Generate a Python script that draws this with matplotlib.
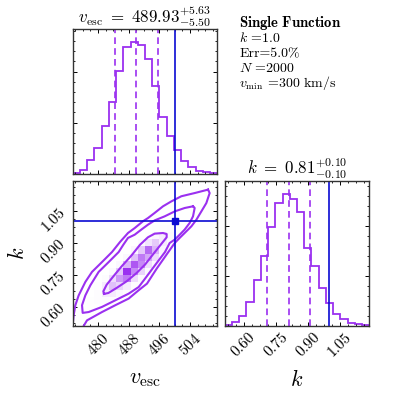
import numpy as np
import matplotlib
matplotlib.use("Agg")
import matplotlib.pyplot as plt
from matplotlib.colors import LinearSegmentedColormap
from matplotlib.ticker import AutoMinorLocator, MultipleLocator

plt.rcParams.update({
    "font.family": "serif",
    "font.serif": ["cmr10"],
    "mathtext.fontset": "cm",
    "axes.formatter.use_mathtext": True,
    "axes.unicode_minus": False,
})

# ----- data -----
v_range = (473.4, 511.1)
k_range = (0.511, 1.187)

# 20-bin histograms (sample counts)
v_counts = [1, 8, 26, 50, 94, 141, 201, 248, 257, 252, 225, 171, 110, 73, 46, 25, 13, 5, 3, 1]
k_counts = [2, 7, 20, 48, 91, 140, 197, 246, 263, 253, 227, 156, 120, 75, 45, 23, 14, 5, 3, 1]

# quantiles (16, 50, 84) and truth values
v_q = [484.43, 489.93, 495.56]
k_q = [0.71, 0.81, 0.91]
v_true = 500.0
k_true = 1.0

v_ticks = [480, 488, 496, 504]
k_ticks = [0.60, 0.75, 0.90, 1.05]
k_tick_labels = ["0.60", "0.75", "0.90", "1.05"]

# 2D density, block of bins: v-bins 2..14, k-bins from top row 6..17 (relative to max)
dens_cols = list(range(2, 15))
dens_rows_top = list(range(6, 18))
density = [
    [0, 0, 0, 0, 0, 0, 0, 0, 0, 0.05, 0.08, 0.12, 0.05],
    [0, 0, 0, 0, 0, 0, 0, 0, 0.08, 0.2, 0.3, 0.15, 0.05],
    [0, 0, 0, 0, 0, 0, 0, 0.15, 0.35, 0.5, 0.3, 0.08, 0],
    [0, 0, 0, 0, 0, 0, 0.2, 0.5, 0.85, 0.6, 0.2, 0.05, 0],
    [0, 0, 0, 0, 0, 0.18, 0.55, 0.8, 0.65, 0.4, 0.12, 0, 0],
    [0, 0, 0, 0, 0.18, 0.6, 0.9, 0.75, 0.4, 0.15, 0, 0, 0],
    [0, 0, 0, 0.15, 0.5, 1.0, 0.75, 0.45, 0.15, 0, 0, 0, 0],
    [0, 0, 0.12, 0.4, 0.7, 0.8, 0.4, 0.15, 0, 0, 0, 0, 0],
    [0, 0.06, 0.3, 0.55, 0.45, 0.3, 0.08, 0, 0, 0, 0, 0, 0],
    [0, 0.12, 0.3, 0.3, 0.18, 0.08, 0, 0, 0, 0, 0, 0, 0],
    [0.05, 0.12, 0.12, 0.08, 0, 0, 0, 0, 0, 0, 0, 0, 0],
    [0.05, 0.05, 0, 0, 0, 0, 0, 0, 0, 0, 0, 0, 0],
]

# contour lines (v_esc, k)
outer_v = [508.68, 505.20, 501.72, 499.12, 496.95, 494.77, 493.03, 491.73, 489.56, 487.82,
           485.74, 483.65, 481.04, 478.44, 476.70, 474.96, 474.09, 473.66, 473.40, 472.70,
           475.31, 476.26, 477.13, 481.04, 484.52, 487.99, 490.60, 492.77, 495.29, 498.34,
           499.99, 501.29, 502.59, 504.33, 505.64, 506.94, 508.24, 509.11, 508.68]
outer_k = [1.148, 1.132, 1.117, 1.093, 1.070, 1.039, 1.015, 1.000, 0.968, 0.945,
           0.903, 0.856, 0.809, 0.763, 0.716, 0.653, 0.607, 0.560, 0.516, 0.469,
           0.469, 0.510, 0.536, 0.575, 0.607, 0.638, 0.677, 0.708, 0.778, 0.856,
           0.898, 0.922, 0.945, 0.976, 1.007, 1.046, 1.085, 1.132, 1.148]

mid_v = [504.77, 502.59, 499.99, 497.38, 494.77, 493.03, 491.30, 489.56, 487.82, 486.60,
         485.39, 482.78, 480.17, 478.00, 476.70, 475.83, 476.00, 477.57, 481.04, 484.52,
         487.99, 490.60, 492.25, 494.86, 497.47, 498.68, 499.99, 501.29, 502.59, 503.90,
         504.77, 505.20, 504.77]
mid_k = [1.070, 1.062, 1.046, 1.023, 1.004, 0.984, 0.961, 0.937, 0.922, 0.890,
         0.856, 0.809, 0.763, 0.700, 0.653, 0.607, 0.571, 0.575, 0.599, 0.630,
         0.661, 0.692, 0.731, 0.794, 0.856, 0.898, 0.914, 0.937, 0.961, 0.992,
         1.023, 1.062, 1.070]

inner_v = [481.56, 481.39, 482.26, 484.00, 486.17, 488.78, 490.95, 493.03, 494.77, 496.95,
           497.90, 497.90, 496.34, 494.43, 492.25, 490.08, 487.47, 484.87, 482.69, 481.56]
inner_k = [0.660, 0.672, 0.703, 0.742, 0.789, 0.841, 0.890, 0.925, 0.942, 0.945,
           0.940, 0.925, 0.890, 0.847, 0.797, 0.758, 0.719, 0.688, 0.664, 0.660]

v_title = r"$v_{\rm esc}\ =\ 489.93^{+5.63}_{-5.50}$"
k_title = r"$k\ =\ 0.81^{+0.10}_{-0.10}$"
info_lines = [r"$k$ =1.0", "Err=5.0%", r"$N$ =2000", r"$v_{\rm min}$ =300 km/s"]

purple = "#9b30f0"
blue = "#0b0bd2"
spine_c = "#333333"

fig = plt.figure(figsize=(3.99, 3.99), dpi=100)
w, h = 0.3624, 0.3619
ax_v = fig.add_axes([0.1822, 0.5647, w, h])
ax_2d = fig.add_axes([0.1822, 0.1837, w, h])
ax_k = fig.add_axes([0.5632, 0.1837, w, h])


def style(ax):
    ax.tick_params(which="both", direction="in", top=True, right=True, colors="black",
                   labelsize=11)
    ax.tick_params(which="major", length=3.2, width=0.7)
    ax.tick_params(which="minor", length=1.7, width=0.6)
    ax.xaxis.set_minor_locator(AutoMinorLocator())
    ax.yaxis.set_minor_locator(AutoMinorLocator())
    for s in ax.spines.values():
        s.set_color(spine_c)
        s.set_linewidth(1.0)


# v_esc histogram
v_edges = np.linspace(v_range[0], v_range[1], 21)
ax_v.stairs(v_counts, v_edges, color=purple, lw=1.3)
for q in v_q:
    ax_v.axvline(q, color=purple, ls=(0, (4, 2.5)), lw=1.2)
ax_v.axvline(v_true, color=blue, lw=1.2)
ax_v.set_xlim(*v_range)
ax_v.set_ylim(0, 1.1 * max(v_counts))
ax_v.set_xticks(v_ticks)
ax_v.yaxis.set_major_locator(MultipleLocator(100))
style(ax_v)
ax_v.set_xticklabels([])
ax_v.set_yticklabels([])
ax_v.set_title(v_title, fontsize=12.2, pad=5)

# k histogram
k_edges = np.linspace(k_range[0], k_range[1], 21)
ax_k.stairs(k_counts, k_edges, color=purple, lw=1.3)
for q in k_q:
    ax_k.axvline(q, color=purple, ls=(0, (4, 2.5)), lw=1.2)
ax_k.axvline(k_true, color=blue, lw=1.2)
ax_k.set_xlim(*k_range)
ax_k.set_ylim(0, 1.1 * max(k_counts))
ax_k.set_xticks(k_ticks, k_tick_labels)
ax_k.yaxis.set_major_locator(MultipleLocator(100))
style(ax_k)
ax_k.set_yticklabels([])
for lab in ax_k.get_xticklabels():
    lab.set_rotation(45)
ax_k.set_title(k_title, fontsize=12.2, pad=5)
ax_k.set_xlabel(r"$k$", fontsize=16)
ax_k.xaxis.set_label_coords(0.5, -0.30)

# 2D panel
H = np.zeros((20, 20))
for r, row in zip(dens_rows_top, density):
    for c, val in zip(dens_cols, row):
        H[19 - r, c] = val
H = np.ma.masked_where(H <= 0, H)
dens_cmap = LinearSegmentedColormap.from_list("dens", [(1, 1, 1, 0), purple])
ax_2d.pcolormesh(v_edges, k_edges, H, cmap=dens_cmap, vmin=0, vmax=1)
for cv, ck in [(outer_v, outer_k), (mid_v, mid_k), (inner_v, inner_k)]:
    ax_2d.plot(cv, ck, color=purple, lw=1.5)
ax_2d.axvline(v_true, color=blue, lw=1.2)
ax_2d.axhline(k_true, color=blue, lw=1.2)
ax_2d.plot([v_true], [k_true], "s", color=blue, ms=5)
ax_2d.set_xlim(*v_range)
ax_2d.set_ylim(*k_range)
ax_2d.set_xticks(v_ticks)
ax_2d.set_yticks(k_ticks, k_tick_labels)
style(ax_2d)
for lab in ax_2d.get_xticklabels() + ax_2d.get_yticklabels():
    lab.set_rotation(45)
ax_2d.set_xlabel(r"$v_{\rm esc}$", fontsize=16)
ax_2d.xaxis.set_label_coords(0.5, -0.30)
ax_2d.set_ylabel(r"$k$", fontsize=16)
ax_2d.yaxis.set_label_coords(-0.31, 0.5)

# info text
fig.text(0.600, 0.933, r"$\mathbf{Single\ Function}$", fontsize=10.6, va="baseline")
for i, line in enumerate(info_lines):
    fig.text(0.600, 0.931 - (i + 1) * 0.0375, line, fontsize=10.0, va="baseline")

fig.savefig("out.png", dpi=100)
